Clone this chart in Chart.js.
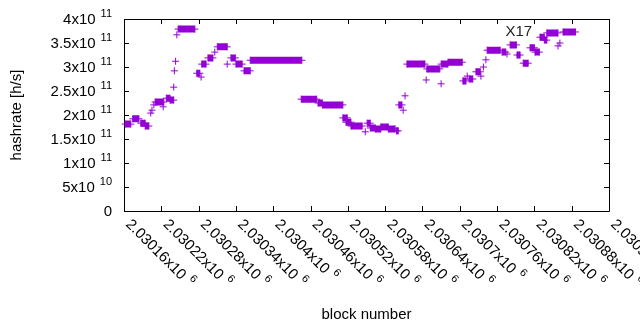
<!DOCTYPE html>
<html>
<head>
<meta charset="utf-8">
<script src="https://cdn.jsdelivr.net/npm/chart.js@4.4.1/dist/chart.umd.min.js"></script>
<style>
  body { margin: 0; background: #fff; }
  #wrap { width: 640px; height: 330px; position: relative; }
</style>
</head>
<body>
<div id="wrap"><canvas id="chartHash"></canvas></div>
<script>
// runs of blocks with the same hashrate estimate (start block, end block, value)
const runStart = [2030162, 2030174, 2030187, 2030194, 2030203, 2030205, 2030208, 2030210, 2030223, 2030228,
  2030234, 2030240, 2030241, 2030243, 2030245, 2030247, 2030277, 2030284, 2030285, 2030295,
  2030306, 2030310, 2030326, 2030332, 2030340, 2030353, 2030363, 2030445, 2030472, 2030479,
  2030512, 2030517, 2030525, 2030548, 2030551, 2030556, 2030564, 2030573, 2030585, 2030598,
  2030602, 2030609, 2030612, 2030615, 2030646, 2030647, 2030670, 2030670, 2030681, 2030705,
  2030712, 2030715, 2030726, 2030734, 2030738, 2030742, 2030744, 2030768, 2030776, 2030781,
  2030792, 2030802, 2030813, 2030821, 2030829, 2030836, 2030840, 2030858, 2030861, 2030866];
const runEnd = [2030171, 2030184, 2030194, 2030200, 2030203, 2030205, 2030208, 2030224, 2030223, 2030234,
  2030240, 2030240, 2030241, 2030243, 2030245, 2030274, 2030282, 2030284, 2030292, 2030303,
  2030306, 2030326, 2030326, 2030339, 2030350, 2030363, 2030446, 2030470, 2030479, 2030512,
  2030519, 2030525, 2030543, 2030548, 2030556, 2030564, 2030573, 2030585, 2030596, 2030601,
  2030607, 2030609, 2030612, 2030644, 2030646, 2030668, 2030670, 2030681, 2030704, 2030710,
  2030712, 2030721, 2030733, 2030734, 2030738, 2030742, 2030765, 2030774, 2030776, 2030791,
  2030797, 2030810, 2030820, 2030828, 2030836, 2030840, 2030858, 2030858, 2030861, 2030886];
const runRate = [1.81e11, 1.92e11, 1.83e11, 1.77e11, 2.04e11, 2.10e11, 2.21e11, 2.27e11, 2.17e11, 2.35e11,
  2.31e11, 2.58e11, 2.92e11, 3.12e11, 3.67e11, 3.79e11, 2.87e11, 2.79e11, 3.06e11, 3.19e11,
  3.31e11, 3.42e11, 3.06e11, 3.19e11, 3.06e11, 2.92e11, 3.14e11, 2.33e11, 2.25e11, 2.21e11,
  1.94e11, 1.85e11, 1.77e11, 1.65e11, 1.83e11, 1.73e11, 1.71e11, 1.75e11, 1.71e11, 1.67e11,
  2.21e11, 2.10e11, 2.40e11, 3.06e11, 2.73e11, 2.96e11, 2.65e11, 3.06e11, 3.10e11, 2.71e11,
  2.81e11, 2.75e11, 2.90e11, 2.81e11, 3.00e11, 3.15e11, 3.35e11, 3.31e11, 3.27e11, 3.46e11,
  3.25e11, 3.08e11, 3.40e11, 3.31e11, 3.62e11, 3.56e11, 3.71e11, 3.44e11, 3.50e11, 3.73e11];

const xTicks = [2030160, 2030220, 2030280, 2030340, 2030400, 2030460, 2030520, 2030580,
  2030640, 2030700, 2030760, 2030820, 2030880, 2030940];
const xTickLabels = ['2.03016x10', '2.03022x10', '2.03028x10', '2.03034x10', '2.0304x10', '2.03046x10', '2.03052x10',
  '2.03058x10', '2.03064x10', '2.0307x10', '2.03076x10', '2.03082x10', '2.03088x10', '2.03094x10'];
const xTickExp = '6';
const yTicks = [0, 5e10, 1e11, 1.5e11, 2e11, 2.5e11, 3e11, 3.5e11, 4e11];
const yTickLabels = ['0', '5x10', '1x10', '1.5x10', '2x10', '2.5x10', '3x10', '3.5x10', '4x10'];
const yTickExp = ['', '10', '11', '11', '11', '11', '11', '11', '11'];

const labelText = 'X17';
const labelX = 2030795;
const labelY = 3.73e11;

const purple = '#9400D3';
const font = '"Liberation Sans", Arial, sans-serif';

function buildPoints() {
  const pts = [];
  runStart.forEach((s, i) => {
    pts.push({ x: s, y: runRate[i] });
    if (runEnd[i] !== s) pts.push({ x: runEnd[i], y: runRate[i] });
    pts.push({ x: runEnd[i], y: null });
  });
  return pts;
}

const frame = {
  id: 'frame',
  beforeDatasetsDraw(chart) {
    const { ctx, chartArea: a, scales } = chart;
    const x = scales.x, y = scales.y;
    ctx.save();
    ctx.strokeStyle = '#000';
    ctx.lineWidth = 1;
    ctx.beginPath();
    ctx.rect(Math.round(a.left) + 0.5, Math.round(a.top) + 0.5, Math.round(a.right - a.left), Math.round(a.bottom - a.top));
    xTicks.forEach((v) => {
      const px = Math.round(x.getPixelForValue(v)) + 0.5;
      ctx.moveTo(px, a.bottom); ctx.lineTo(px, a.bottom - 5);
      ctx.moveTo(px, a.top); ctx.lineTo(px, a.top + 5);
    });
    yTicks.forEach((v) => {
      const py = Math.round(y.getPixelForValue(v)) + 0.5;
      ctx.moveTo(a.left, py); ctx.lineTo(a.left + 5, py);
      ctx.moveTo(a.right, py); ctx.lineTo(a.right - 5, py);
    });
    ctx.stroke();

    ctx.fillStyle = '#000';
    ctx.textBaseline = 'middle';
    // y tick labels with raised exponent
    yTicks.forEach((v, i) => {
      const py = y.getPixelForValue(v);
      let right = a.left - 12;
      ctx.textAlign = 'right';
      if (yTickExp[i]) {
        ctx.font = '11px ' + font;
        ctx.fillText(yTickExp[i], right, py - 5);
        right -= ctx.measureText(yTickExp[i]).width + 5;
      }
      ctx.font = '15px ' + font;
      ctx.fillText(yTickLabels[i], right, py + 1);
    });
    // rotated x tick labels
    xTicks.forEach((v, i) => {
      const px = x.getPixelForValue(v);
      ctx.save();
      ctx.translate(px + 4, a.bottom + 11);
      ctx.rotate(Math.PI / 4);
      ctx.textAlign = 'left';
      ctx.font = '15px ' + font;
      ctx.fillText(xTickLabels[i], 0, 0);
      const w = ctx.measureText(xTickLabels[i]).width;
      ctx.font = '11px ' + font;
      ctx.fillText(xTickExp, w + 5, -6);
      ctx.restore();
    });
    // axis titles
    ctx.font = '15px ' + font;
    ctx.textAlign = 'center';
    ctx.fillText('block number', (a.left + a.right) / 2, 315);
    ctx.save();
    ctx.translate(17, (a.top + a.bottom) / 2);
    ctx.rotate(-Math.PI / 2);
    ctx.fillText('hashrate [h/s]', 0, 0);
    ctx.restore();
    ctx.fillStyle = '#222';
    ctx.fillText(labelText, x.getPixelForValue(labelX), y.getPixelForValue(labelY));
    ctx.restore();
  }
};

function renderChart() {
  const ctx = document.getElementById('chartHash');
  return new Chart(ctx, {
    type: 'scatter',
    data: {
      datasets: [{
        data: buildPoints(),
        showLine: true,
        spanGaps: false,
        borderColor: purple,
        backgroundColor: purple,
        borderWidth: 7,
        borderCapStyle: 'butt',
        pointStyle: 'cross',
        pointRadius: 3.5,
        pointBorderWidth: 1,
        pointBorderColor: purple,
        clip: false
      }]
    },
    options: {
      responsive: true,
      maintainAspectRatio: false,
      animation: false,
      events: [],
      layout: { padding: { left: 124, right: 31, top: 19, bottom: 119 } },
      scales: {
        x: { type: 'linear', display: false, min: 2030160, max: 2030940 },
        y: { type: 'linear', display: false, min: 0, max: 4e11 }
      },
      plugins: { legend: { display: false }, tooltip: { enabled: false } }
    },
    plugins: [frame]
  });
}

renderChart();
</script>
</body>
</html>
